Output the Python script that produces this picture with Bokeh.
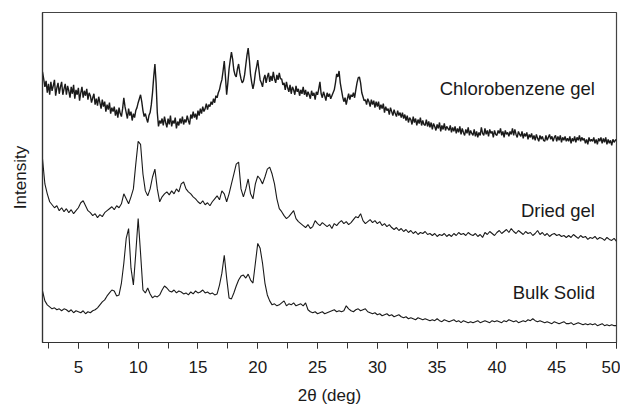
import numpy as np
from bokeh.plotting import figure
from bokeh.models import Range1d, SingleIntervalTicker, FixedTicker, Label
from bokeh.embed import file_html
from bokeh.resources import INLINE

# 2-theta grids (deg)
two_theta_fine = np.round(np.arange(2.0, 50.0001, 0.1), 1)   # chlorobenzene gel
two_theta = np.round(np.arange(2.0, 50.0001, 0.2), 1)        # dried gel, bulk solid

chlorobenzene_gel = [
    273, 266, 258, 264, 252, 261, 250, 263, 254, 259, 265, 249, 257, 262, 251, 258, 263, 250, 256, 261,
    250, 259, 254, 247, 258, 251, 260, 246, 255, 250, 257, 244, 252, 258, 247, 254, 249, 256, 245, 252,
    249, 242, 247, 251, 240, 246, 239, 248, 242, 236, 245, 238, 243, 233, 240, 235, 242, 231, 237, 233,
    238, 229, 235, 227, 237, 231, 228, 236, 247, 238, 232, 226, 236, 229, 233, 224, 231, 227, 234, 237,
    242, 246, 250, 243, 234, 228, 231, 226, 222, 229, 232, 240, 252, 268, 281, 262, 232, 218, 224, 221,
    226, 219, 228, 222, 217, 226, 220, 229, 218, 224, 221, 227, 216, 223, 219, 226, 221, 228, 220, 225,
    222, 229, 224, 220, 230, 226, 233, 227, 231, 225, 234, 229, 236, 231, 238, 233, 236, 241, 235, 240,
    238, 243, 240, 246, 242, 249, 247, 252, 255, 261, 265, 274, 284, 268, 250, 262, 276, 285, 293, 286,
    275, 270, 268, 276, 281, 272, 266, 262, 264, 270, 280, 290, 297, 285, 270, 262, 256, 262, 272, 278,
    285, 275, 265, 262, 258, 266, 270, 262, 268, 272, 263, 269, 264, 273, 266, 262, 270, 265, 272, 266,
    266, 260, 262, 255, 263, 257, 253, 260, 251, 258, 255, 250, 259, 253, 256, 249, 255, 251, 258, 250,
    255, 248, 253, 250, 246, 254, 249, 252, 245, 253, 250, 256, 263, 251, 247, 253, 249, 244, 252, 248,
    251, 246, 249, 252, 255, 262, 271, 268, 274, 262, 255, 248, 243, 247, 240, 246, 251, 245, 250, 248,
    252, 247, 255, 262, 267, 268, 262, 252, 248, 244, 245, 240, 246, 243, 238, 245, 240, 244, 237, 243,
    238, 243, 235, 240, 236, 241, 232, 238, 234, 236, 230, 237, 233, 229, 235, 231, 228, 234, 229, 232,
    227, 232, 226, 230, 224, 229, 222, 227, 225, 220, 228, 222, 226, 219, 225, 221, 227, 219, 224, 220,
    219, 225, 218, 223, 217, 222, 215, 221, 218, 214, 220, 216, 222, 213, 219, 215, 221, 214, 218, 216,
    214, 219, 212, 217, 213, 218, 211, 216, 212, 218, 210, 216, 212, 209, 215, 211, 217, 209, 214, 211,
    209, 215, 208, 213, 207, 212, 209, 217, 211, 209, 216, 210, 214, 208, 215, 211, 213, 207, 214, 210,
    209, 214, 211, 216, 209, 213, 207, 214, 210, 212, 208, 213, 210, 216, 209, 215, 210, 207, 213, 210,
    208, 213, 206, 211, 208, 212, 205, 210, 207, 211, 205, 209, 204, 210, 206, 203, 209, 205, 208, 204,
    203, 209, 204, 207, 210, 205, 208, 203, 207, 209, 203, 208, 204, 209, 202, 207, 204, 208, 203, 206,
    203, 208, 201, 206, 203, 208, 202, 207, 204, 209, 203, 207, 204, 206, 201, 205, 200, 207, 203, 205,
    203, 207, 201, 205, 200, 206, 203, 207, 201, 206, 202, 207, 200, 205, 201, 204, 199, 205, 202, 204,
    205,
]

dried_gel = [
    185, 160, 150, 142, 139, 136, 138, 133, 136, 132,
    135, 131, 134, 130, 133, 136, 141, 143, 138, 133,
    131, 128, 130, 126, 129, 127, 131, 133, 135, 137,
    134, 138, 136, 140, 150, 145, 140, 147, 155, 180,
    203, 200, 170, 153, 148, 155, 167, 175, 155, 142,
    147, 150, 152, 149, 153, 150, 155, 152, 160, 162,
    155, 152, 150, 147, 145, 142, 140, 143, 139, 141,
    138, 142, 145, 148, 144, 153, 150, 142, 150, 160,
    170, 180, 182, 155, 147, 155, 165, 150, 145, 160,
    168, 165, 160, 167, 175, 177, 170, 160, 145, 135,
    132, 128, 125, 127, 130, 133, 125, 122, 120, 118,
    116, 119, 115, 117, 123, 120, 118, 121, 119, 117,
    119, 115, 120, 118, 121, 123, 120, 122, 119, 121,
    124, 127, 126, 130, 123, 120, 122, 124, 121, 123,
    120, 122, 118, 120, 117, 119, 116, 114, 116, 113,
    115, 112, 114, 111, 113, 110, 112, 109, 111, 110,
    112, 109, 110, 108, 110, 107, 109, 108, 110, 107,
    109, 107, 110, 108, 111, 109, 110, 108, 111, 109,
    108, 110, 107, 109, 106, 111, 109, 112, 110, 108,
    111, 113, 110, 112, 114, 111, 115, 112, 110, 113,
    111, 109, 112, 110, 111, 108, 110, 113, 109, 111,
    108, 110, 107, 109, 110, 108, 109, 107, 108, 106,
    108, 106, 109, 107, 105, 108, 106, 107, 104, 106,
    105, 107, 104, 106, 105, 103, 106, 104, 103, 105,
    102,
]

bulk_solid = [
    52, 42, 38, 36, 34, 35, 33, 34, 32, 34,
    33, 31, 33, 30, 32, 31, 30, 32, 29, 31,
    30, 32, 33, 35, 38, 41, 43, 47, 50, 53,
    52, 47, 48, 60, 80, 105, 115, 75, 58, 90,
    125, 90, 53, 50, 55, 49, 45, 47, 46, 48,
    53, 57, 55, 52, 51, 53, 50, 52, 51, 49,
    50, 48, 51, 49, 52, 50, 51, 53, 50, 51,
    49, 50, 48, 49, 58, 70, 88, 65, 45, 44,
    50, 57, 63, 67, 68, 65, 69, 63, 60, 80,
    100, 95, 80, 60, 48, 42, 38, 39, 37, 38,
    40, 42, 37, 39, 38, 40, 37, 38, 39, 37,
    40, 33, 31, 30, 31, 29, 30, 31, 29, 30,
    31, 32, 33, 31, 32, 31, 32, 37, 34, 32,
    31, 33, 34, 32, 33, 34, 31, 30, 29, 30,
    28, 29, 27, 28, 29, 27, 28, 26, 27, 28,
    26, 25, 26, 24, 25, 24, 23, 25, 24, 23,
    24, 23, 22, 23, 22, 24, 22, 21, 23, 22,
    21, 22, 23, 21, 22, 20, 22, 21, 20, 21,
    20, 21, 22, 20, 21, 22, 21, 20, 22, 21,
    22, 21, 20, 22, 21, 23, 22, 21, 22, 20,
    21, 22, 21, 23, 22, 24, 22, 21, 22, 21,
    20, 21, 20, 19, 21, 20, 19, 20, 21, 19,
    19, 20, 18, 19, 20, 19, 18, 19, 18, 19,
    18, 19, 17, 18, 19, 17, 18, 17, 18, 17,
    17,
]

series_names = ["Chlorobenzene gel", "Dried gel", "Bulk Solid"]
series_x = [two_theta_fine, two_theta, two_theta]
series_values = [chlorobenzene_gel, dried_gel, bulk_solid]
series_width = [1.4, 1.1, 1.1]

# label anchor points (data units)
label_x = [48.2, 48.2, 48.2]
label_y = [256, 133, 50]

FONT = "Liberation Sans"

p = figure(width=620, height=407, output_backend="svg", toolbar_location=None,
           x_range=Range1d(2, 50), y_range=Range1d(0, 333),
           min_border_left=42, min_border_right=4, min_border_top=12,
           min_border_bottom=62)
p.background_fill_color = "white"
p.border_fill_color = "white"
p.grid.visible = False
p.outline_line_color = "#444444"
p.outline_line_width = 1.2

for xs, ys, lw in zip(series_x, series_values, series_width):
    p.line(xs, ys, line_color="#1a1a1a", line_width=lw)

for name, lx, ly in zip(series_names, label_x, label_y):
    p.add_layout(Label(x=lx, y=ly, text=name, text_align="right",
                       text_baseline="middle", text_font=FONT,
                       text_font_size="18.5px", text_color="#1a1a1a"))

xa = p.xaxis[0]
xa.ticker = SingleIntervalTicker(interval=5, num_minor_ticks=2)
xa.axis_label = "2θ (deg)"
xa.axis_label_text_font = FONT
xa.axis_label_text_font_size = "17px"
xa.axis_label_text_font_style = "normal"
xa.axis_label_text_color = "#1a1a1a"
xa.axis_label_standoff = 10
xa.major_label_text_font = FONT
xa.major_label_text_font_size = "17px"
xa.major_label_text_color = "#1a1a1a"
xa.major_label_standoff = 12
xa.major_tick_in = 0
xa.major_tick_out = 6
xa.minor_tick_in = 0
xa.minor_tick_out = 6
xa.axis_line_color = "#333333"
xa.axis_line_width = 1.2
xa.major_tick_line_color = "#333333"
xa.minor_tick_line_color = "#333333"

ya = p.yaxis[0]
ya.ticker = FixedTicker(ticks=[])
ya.axis_label = "Intensity"
ya.axis_label_text_font = FONT
ya.axis_label_text_font_size = "17px"
ya.axis_label_text_font_style = "normal"
ya.axis_label_text_color = "#1a1a1a"
ya.axis_label_standoff = 13
ya.major_label_text_font_size = "0px"
ya.major_tick_line_color = None
ya.minor_tick_line_color = None
ya.axis_line_color = "#333333"
ya.axis_line_width = 1.2

open("out.html", "w").write(file_html(p, INLINE))
